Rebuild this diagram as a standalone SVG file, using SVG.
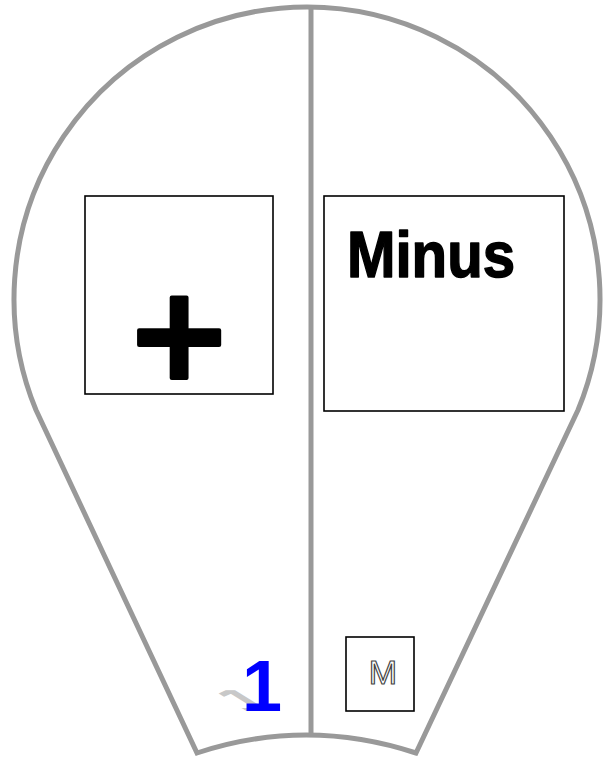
<svg xmlns="http://www.w3.org/2000/svg" xmlns:xlink="http://www.w3.org/1999/xlink" width="606" height="760" viewBox="0 0 606 760">
<style>
.outline{fill:none;stroke:#999;stroke-width:5}
.box{fill:#fff;stroke:#000;stroke-width:1.6}
.sym{font-family:"DejaVu Sans",sans-serif;font-weight:bold;fill:#000;stroke:#000;stroke-width:4;stroke-linejoin:round}
.lbl{font-family:"Comic Sans MS","Liberation Sans",sans-serif;font-weight:bold;fill:#000;stroke:#000;stroke-width:1.5;stroke-linejoin:round}
</style>
<defs>
<text id="one" x="242" y="711" font-family="Liberation Sans, Arial, sans-serif" font-weight="bold" font-size="72">1</text>
</defs>
<rect width="606" height="760" fill="#fff"/>
<g id="bulb">
<path class="outline" d="M197,753 L36,410 A293,292 0 1 1 578,410 L416,753 Q306,717 197,753 Z"/>
</g>
<g id="connectors">
<line x1="311" y1="9" x2="311" y2="733" stroke="#999" stroke-width="5"/>
</g>
<g id="plus">
<rect class="box" x="85" y="196" width="188" height="198"/>
<text class="sym" x="179" y="378" font-size="128" text-anchor="middle">+</text>
</g>
<g id="minus">
<rect class="box" x="324" y="196" width="240" height="215"/>
<text class="lbl" x="347" y="277" font-size="64" textLength="168" lengthAdjust="spacingAndGlyphs">Minus</text>
</g>
<g id="number">
<use xlink:href="#one" fill="#c8c8c8" transform="matrix(1,0,0.68,0.42,-483.5,412.4)"/>
<use xlink:href="#one" fill="#0000ff"/>
</g>
<g id="mbox">
<rect class="box" x="346" y="637" width="68" height="74"/>
<text x="383" y="684" font-family="Liberation Sans, Arial, sans-serif" font-size="34" text-anchor="middle" fill="#fff" stroke="#444" stroke-width="1.2">M</text>
</g>
</svg>
